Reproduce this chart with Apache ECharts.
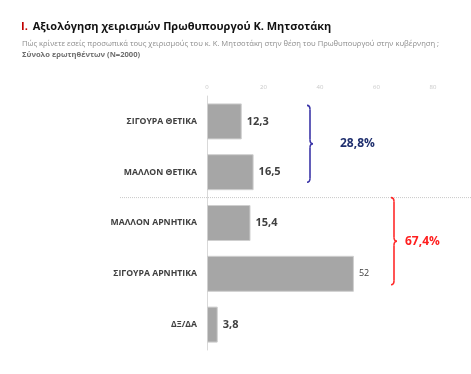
<!DOCTYPE html>
<html>
<head>
<meta charset="utf-8">
<script src="https://cdn.jsdelivr.net/npm/echarts@6/dist/echarts.min.js"></script>
<style>
  html, body { margin: 0; padding: 0; background: #fff; }
  #chart { width: 471px; height: 374px; }
</style>
</head>
<body>
<div id="chart"></div>
<script>
// δεδομένα
const categories = ['ΣΙΓΟΥΡΑ ΘΕΤΙΚΑ', 'ΜΑΛΛΟΝ ΘΕΤΙΚΑ', 'ΜΑΛΛΟΝ ΑΡΝΗΤΙΚΑ', 'ΣΙΓΟΥΡΑ ΑΡΝΗΤΙΚΑ', 'ΔΞ/ΔΑ'];
const values = [12.3, 16.5, 15.4, 52, 3.8];
const valueLabels = ['12,3', '16,5', '15,4', '52', '3,8'];
const axisTicks = [0, 20, 40, 60, 80];

const fmt = v => v.toFixed(1).replace('.', ',') + '%';
const positiveSum = values[0] + values[1];
const negativeSum = values[2] + values[3];

const chart = echarts.init(document.getElementById('chart'));

const option = {
  animation: false,
  title: [
    {
      left: 16, top: 13,
      text: '{r|I.} {t|Αξιολόγηση χειρισμών Πρωθυπουργού Κ. Μητσοτάκη}',
      textStyle: {
        rich: {
          r: { color: '#c00000', fontSize: 11, fontWeight: 'bold', fontFamily: 'Open Sans' },
          t: { color: '#111111', fontSize: 11, fontWeight: 'bold', fontFamily: 'Open Sans' }
        }
      }
    },
    {
      left: 17, top: 35,
      text: 'Πώς κρίνετε εσείς προσωπικά τους χειρισμούς του κ. Κ. Μητσοτάκη στην θέση του Πρωθυπουργού στην κυβέρνηση ;',
      textStyle: { color: '#8c8c8c', fontSize: 7.6, fontWeight: 'normal', fontFamily: 'Open Sans' }
    },
    {
      left: 17, top: 46,
      text: 'Σύνολο ερωτηθέντων (N=2000)',
      textStyle: { color: '#6e6e6e', fontSize: 7.6, fontWeight: 'bold', fontFamily: 'Open Sans' }
    }
  ],
  grid: { left: 207, right: 38, top: 96, bottom: 24 },
  xAxis: {
    type: 'value',
    position: 'top',
    min: axisTicks[0],
    max: axisTicks[axisTicks.length - 1],
    interval: 20,
    axisLine: { show: false },
    axisTick: { show: false },
    splitLine: { show: false },
    axisLabel: { color: '#c8c8c8', fontSize: 6, margin: 6, fontFamily: 'Open Sans' }
  },
  yAxis: {
    type: 'category',
    inverse: true,
    data: categories,
    axisLine: { show: true, lineStyle: { color: '#d9d9d9', width: 1 } },
    axisTick: { show: false },
    axisLabel: { color: '#404040', fontSize: 8.7, fontWeight: 'bold', margin: 10, fontFamily: 'Open Sans' }
  },
  series: [{
    type: 'bar',
    data: values,
    barWidth: 36,
    itemStyle: { color: '#a6a6a6', borderColor: '#cfcfcf', borderWidth: 1 },
    label: {
      show: true,
      position: 'right',
      distance: 5,
      color: '#404040',
      fontSize: 11,
      fontWeight: 'bold',
      fontFamily: 'Open Sans',
      formatter: p => p.dataIndex === 3 ? '{s|' + valueLabels[p.dataIndex] + '}' : valueLabels[p.dataIndex],
      rich: { s: { fontSize: 9, color: '#404040', fontWeight: 'normal', fontFamily: 'Open Sans' } }
    }
  }]
};

chart.setOption(option);

// αγκύλες και διαχωριστική γραμμή
const yc = i => chart.convertToPixel({ yAxisIndex: 0 }, categories[i]);

// αγκύλη "}" από γραμμές και καμπύλες
const brace = (x, top, bot, color) => {
  const mid = (top + bot) / 2;
  const st = { stroke: color, fill: null, lineWidth: 1.6 };
  return {
    type: 'group',
    children: [
      { type: 'bezierCurve', shape: { x1: x - 3, y1: top, cpx1: x, cpy1: top, x2: x, y2: top + 4 }, style: st },
      { type: 'line', shape: { x1: x, y1: top + 4, x2: x, y2: mid - 4 }, style: st },
      { type: 'bezierCurve', shape: { x1: x, y1: mid - 4, cpx1: x, cpy1: mid, x2: x + 3, y2: mid }, style: st },
      { type: 'bezierCurve', shape: { x1: x + 3, y1: mid, cpx1: x, cpy1: mid, x2: x, y2: mid + 4 }, style: st },
      { type: 'line', shape: { x1: x, y1: mid + 4, x2: x, y2: bot - 4 }, style: st },
      { type: 'bezierCurve', shape: { x1: x, y1: bot - 4, cpx1: x, cpy1: bot, x2: x - 3, y2: bot }, style: st }
    ]
  };
};

const sepY = (yc(1) + yc(2)) / 2;
const bTop = yc(0) - 16, bBot = yc(1) + 10;
const rTop = sepY, rBot = yc(3) + 11;

chart.setOption({
  graphic: [
    {
      type: 'line',
      shape: { x1: 120, y1: sepY, x2: 471, y2: sepY },
      style: { stroke: '#c8c8c8', lineWidth: 1, lineDash: [1, 1] }
    },
    brace(310, bTop, bBot, '#3b35a8'),
    {
      type: 'text', x: 340, y: (bTop + bBot) / 2, style: {
        text: fmt(positiveSum), fill: '#1f2f6e', font: 'bold 12px "Open Sans"', verticalAlign: 'middle'
      }
    },
    brace(394, rTop, rBot, '#ff2a2a'),
    {
      type: 'text', x: 405, y: (rTop + rBot) / 2, style: {
        text: fmt(negativeSum), fill: '#ff1f1f', font: 'bold 12px "Open Sans"', verticalAlign: 'middle'
      }
    }
  ]
});
</script>
</body>
</html>
